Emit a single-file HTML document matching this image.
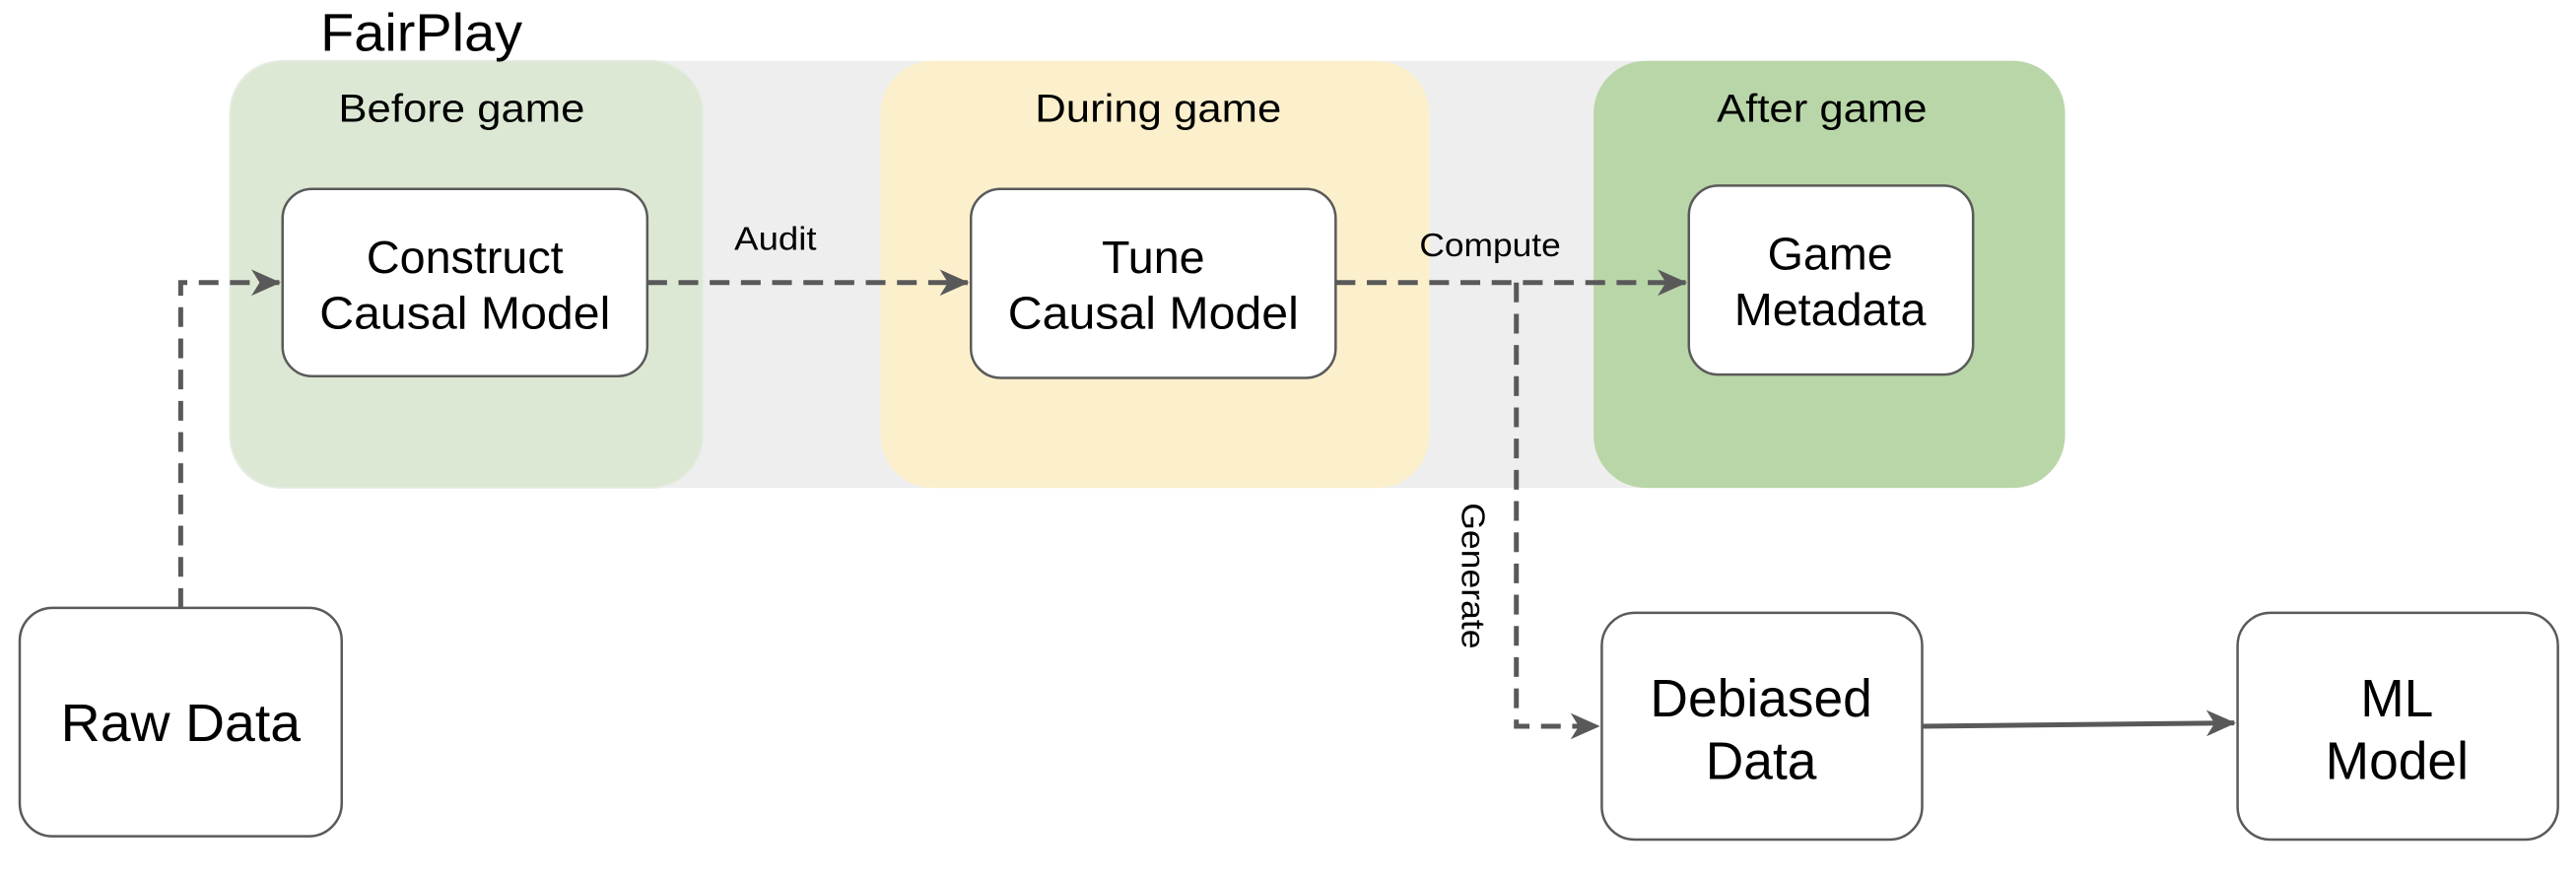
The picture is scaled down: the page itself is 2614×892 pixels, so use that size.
<!DOCTYPE html>
<html><head><meta charset="utf-8"><style>html,body{margin:0;padding:0;background:#fff}svg{display:block}</style></head>
<body>
<svg width="2614" height="892" viewBox="0 0 1568 535" preserveAspectRatio="none" xmlns="http://www.w3.org/2000/svg" font-family="Liberation Sans, Arial, sans-serif">
<defs>
<marker id="ah" markerWidth="18" markerHeight="16" refX="17" refY="8" orient="auto" markerUnits="userSpaceOnUse" viewBox="0 0 18 16">
<path d="M0,0 L18,8 L0,16 L5,8 Z" fill="#595959"/></marker>
</defs>
<rect x="140" y="37" width="1116" height="260" rx="30" fill="#eeeeee"/>
<rect x="140" y="37" width="288" height="260" rx="32" fill="#dce8d4" stroke="#e6ece2" stroke-width="1"/>
<rect x="536" y="37" width="334" height="260" rx="32" fill="#fcf0cc"/>
<rect x="970" y="37" width="287" height="260" rx="32" fill="#b9d6a8"/>
<text x="195" y="31" font-size="32" fill="#000" textLength="123" lengthAdjust="spacingAndGlyphs">FairPlay</text>
<text x="281" y="74" font-size="24" text-anchor="middle" textLength="150" lengthAdjust="spacingAndGlyphs">Before game</text>
<text x="705" y="74" font-size="24" text-anchor="middle" textLength="150" lengthAdjust="spacingAndGlyphs">During game</text>
<text x="1109" y="74" font-size="24" text-anchor="middle" textLength="128" lengthAdjust="spacingAndGlyphs">After game</text>

<g fill="#fff" stroke="#5a5a5a" stroke-width="1.5">
<rect x="172" y="115" width="222" height="114" rx="18"/>
<rect x="591" y="115" width="222" height="115" rx="18"/>
<rect x="1028" y="113" width="173" height="115" rx="18"/>
<rect x="12" y="370" width="196" height="139" rx="20"/>
<rect x="975" y="373" width="195" height="138" rx="20"/>
<rect x="1362" y="373" width="195" height="138" rx="20"/>
</g>
<g font-size="28" text-anchor="middle" fill="#000">
<text x="283" y="166">Construct</text><text x="283" y="200" textLength="177" lengthAdjust="spacingAndGlyphs">Causal Model</text>
<text x="702" y="166">Tune</text><text x="702" y="200" textLength="177" lengthAdjust="spacingAndGlyphs">Causal Model</text>
<text x="1114" y="164">Game</text><text x="1114" y="198">Metadata</text>
<text x="110" y="451" font-size="32" textLength="146" lengthAdjust="spacingAndGlyphs">Raw Data</text>
<text x="1072" y="436" font-size="32">Debiased</text><text x="1072" y="474" font-size="32">Data</text>
<text x="1459" y="436" font-size="32">ML</text><text x="1459" y="474" font-size="32">Model</text>
</g>

<g fill="none" stroke="#595959" stroke-width="3" stroke-dasharray="12,7">
<path d="M110,370 L110,172 L170,172" marker-end="url(#ah)"/>
<path d="M394,172 L589,172" marker-end="url(#ah)"/>
<path d="M813,172 L1026,172" marker-end="url(#ah)"/>
<path d="M923,172 L923,442 L973,442" marker-end="url(#ah)"/>
</g>
<path d="M1170,442 L1360,440" stroke="#595959" stroke-width="3" fill="none" marker-end="url(#ah)"/>

<g font-size="20" fill="#000">
<text x="447" y="152" textLength="50" lengthAdjust="spacingAndGlyphs">Audit</text>
<text x="864" y="156" textLength="86" lengthAdjust="spacingAndGlyphs">Compute</text>
<text transform="translate(890,306) rotate(90)" textLength="89" lengthAdjust="spacingAndGlyphs">Generate</text>
</g>
</svg>
</body></html>
